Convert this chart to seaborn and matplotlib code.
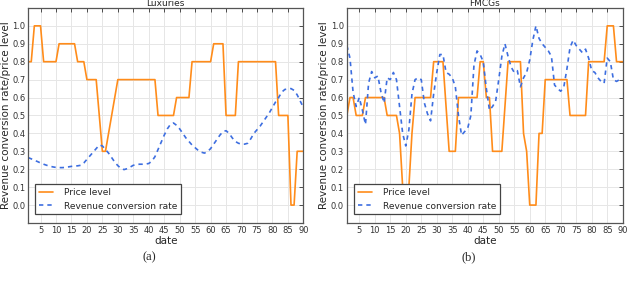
import numpy as np
import pandas as pd
import matplotlib
matplotlib.use("Agg")
import matplotlib.pyplot as plt
import seaborn as sns

# days 1..90 on the x axis
dates = np.arange(1, 91)

# Luxuries panel
lux_price = [0.8, 0.8, 1.0, 1.0, 1.0, 0.8, 0.8, 0.8, 0.8, 0.8,
             0.9, 0.9, 0.9, 0.9, 0.9, 0.9, 0.8, 0.8, 0.8, 0.7,
             0.7, 0.7, 0.7, 0.5, 0.3, 0.3, 0.4, 0.5, 0.6, 0.7,
             0.7, 0.7, 0.7, 0.7, 0.7, 0.7, 0.7, 0.7, 0.7, 0.7,
             0.7, 0.7, 0.5, 0.5, 0.5, 0.5, 0.5, 0.5, 0.6, 0.6,
             0.6, 0.6, 0.6, 0.8, 0.8, 0.8, 0.8, 0.8, 0.8, 0.8,
             0.9, 0.9, 0.9, 0.9, 0.5, 0.5, 0.5, 0.5, 0.8, 0.8,
             0.8, 0.8, 0.8, 0.8, 0.8, 0.8, 0.8, 0.8, 0.8, 0.8,
             0.8, 0.5, 0.5, 0.5, 0.5, 0.0, 0.0, 0.3, 0.3, 0.3]
lux_rate = [0.265, 0.258, 0.250, 0.243, 0.235, 0.228, 0.222, 0.217, 0.213, 0.210,
            0.209, 0.209, 0.210, 0.213, 0.216, 0.218, 0.219, 0.222, 0.235, 0.255,
            0.275, 0.295, 0.315, 0.335, 0.330, 0.310, 0.290, 0.265, 0.240, 0.220,
            0.205, 0.198, 0.203, 0.212, 0.222, 0.226, 0.228, 0.228, 0.229, 0.232,
            0.245, 0.270, 0.310, 0.350, 0.390, 0.425, 0.450, 0.458, 0.445, 0.425,
            0.400, 0.375, 0.355, 0.335, 0.320, 0.305, 0.295, 0.290, 0.298, 0.315,
            0.340, 0.365, 0.390, 0.410, 0.415, 0.400, 0.375, 0.355, 0.345, 0.340,
            0.340, 0.345, 0.370, 0.400, 0.420, 0.440, 0.465, 0.490, 0.515, 0.545,
            0.575, 0.600, 0.630, 0.645, 0.648, 0.650, 0.640, 0.615, 0.580, 0.545]

# FMCGs panel
fmcg_price = [0.5, 0.6, 0.6, 0.5, 0.5, 0.5, 0.6, 0.6, 0.6, 0.6,
              0.6, 0.6, 0.6, 0.5, 0.5, 0.5, 0.5, 0.4, 0.1, 0.1,
              0.1, 0.4, 0.6, 0.6, 0.6, 0.6, 0.6, 0.6, 0.8, 0.8,
              0.8, 0.8, 0.55, 0.3, 0.3, 0.3, 0.6, 0.6, 0.6, 0.6,
              0.6, 0.6, 0.6, 0.8, 0.8, 0.6, 0.6, 0.3, 0.3, 0.3,
              0.3, 0.55, 0.8, 0.8, 0.8, 0.8, 0.8, 0.4, 0.3, 0.0,
              0.0, 0.0, 0.4, 0.4, 0.7, 0.7, 0.7, 0.7, 0.7, 0.7,
              0.7, 0.7, 0.5, 0.5, 0.5, 0.5, 0.5, 0.5, 0.8, 0.8,
              0.8, 0.8, 0.8, 0.8, 1.0, 1.0, 1.0, 0.8, 0.8, 0.8]
fmcg_rate = [0.89, 0.82, 0.63, 0.55, 0.60, 0.53, 0.45, 0.68, 0.745, 0.71,
             0.72, 0.63, 0.57, 0.71, 0.70, 0.74, 0.70, 0.55, 0.40, 0.33,
             0.42, 0.62, 0.70, 0.71, 0.70, 0.57, 0.51, 0.47, 0.62, 0.74,
             0.84, 0.84, 0.74, 0.73, 0.71, 0.66, 0.50, 0.39, 0.41, 0.43,
             0.50, 0.78, 0.86, 0.84, 0.80, 0.65, 0.53, 0.55, 0.58, 0.70,
             0.83, 0.90, 0.83, 0.77, 0.74, 0.75, 0.66, 0.71, 0.74, 0.81,
             0.92, 1.00, 0.93, 0.90, 0.88, 0.86, 0.83, 0.67, 0.65, 0.635,
             0.66, 0.76, 0.88, 0.92, 0.89, 0.87, 0.85, 0.87, 0.82, 0.75,
             0.74, 0.71, 0.69, 0.68, 0.82, 0.80, 0.70, 0.69, 0.70, 0.70]

titles = ["Luxuries", "FMCGs"]
captions = ["(a)", "(b)"]
orange = "#ff8c1a"
blue = "#3d6ee0"

sns.set_style("whitegrid")
plt.rcParams["font.family"] = ["DejaVu Sans"]

fig = plt.figure(figsize=(6.4, 2.83), dpi=100)
ax1 = fig.add_axes([0.044, 0.212, 0.430, 0.760])
ax2 = fig.add_axes([0.542, 0.212, 0.431, 0.760])

panels = [(ax1, lux_price, lux_rate), (ax2, fmcg_price, fmcg_rate)]
for i, (ax, price, rate) in enumerate(panels):
    df = pd.DataFrame({"date": dates, "price": price, "rate": rate})
    sns.lineplot(data=df, x="date", y="price", ax=ax, color=orange,
                 lw=1.2, label="Price level")
    sns.lineplot(data=df, x="date", y="rate", ax=ax, color=blue,
                 lw=1.2, linestyle=(0, (2.6, 2.4)),
                 label="Revenue conversion rate")
    ax.set_xlim(1, 90)
    ax.set_ylim(-0.1, 1.1)
    ax.set_xticks(np.arange(5, 91, 5))
    ax.set_yticks(np.round(np.arange(0, 1.01, 0.1), 1))
    ax.tick_params(labelsize=6, colors="#333333", direction="in",
                   length=3, width=0.6, top=True, right=True, pad=2)
    ax.grid(True, color="#e6e6e6", lw=0.7)
    for s in ax.spines.values():
        s.set_color("#555555")
        s.set_linewidth(0.9)
    ax.set_title(titles[i], fontsize=6.5, pad=1.5)
    ax.set_xlabel("date", fontsize=7.5, labelpad=1)
    ax.set_ylabel("Revenue conversion rate/price level", fontsize=7.5, labelpad=1)
    leg = ax.legend(loc="lower left", fontsize=6.5, handlelength=1.6,
                    fancybox=False, framealpha=1, borderpad=0.4,
                    handletextpad=1.2, bbox_to_anchor=(0.01, 0.02))
    leg.get_frame().set_edgecolor("#444444")
    leg.get_frame().set_linewidth(0.9)
    bb = ax.get_position()
    fig.text(bb.x0 + bb.width * 0.44, 0.09, captions[i], ha="center", va="center",
             fontsize=9, family="Liberation Serif")

fig.savefig("out.png", dpi=100)
